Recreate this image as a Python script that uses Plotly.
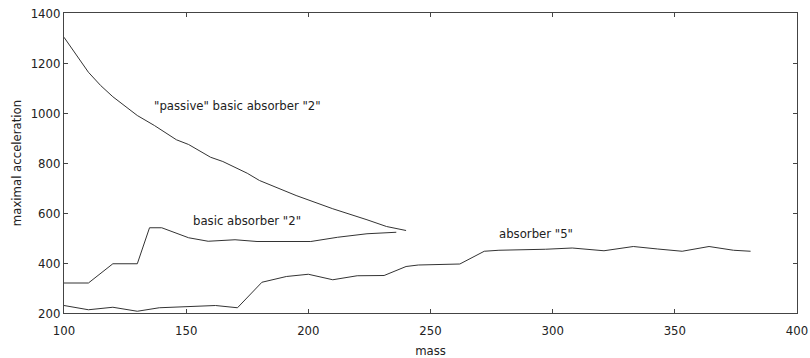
import plotly.graph_objects as go

passive_mass = [100, 110, 115, 120, 130, 137, 146, 151, 160, 165, 175, 180, 195, 210, 224, 232, 240]
passive_acc = [1303, 1163, 1110, 1065, 990, 950, 893, 874, 823, 806, 759, 730, 670, 617, 573, 546, 530]

basic_mass = [100, 110, 120, 130, 135, 140, 151, 159, 170, 179, 201, 212, 224, 236]
basic_acc = [320, 320, 397, 397, 541, 541, 501, 487, 493, 486, 486, 503, 517, 523]

abs5_mass = [100, 110, 120, 130, 139, 153, 162, 171, 181, 191, 200, 210, 220, 231, 240, 245, 262,
             272, 278, 297, 308, 321, 333, 343, 353, 364, 374, 381]
abs5_acc = [230, 213, 223, 207, 221, 226, 230, 221, 323, 346, 355, 333, 349, 350, 386, 392, 396,
            447, 451, 455, 460, 449, 466, 456, 447, 466, 451, 447]

labels = ['"passive" basic absorber "2"', 'basic absorber "2"', 'absorber "5"']
label_x = [171, 175, 293]
label_y = [1030, 572, 518]

font = "Liberation Sans Narrow, DejaVu Sans Condensed, Arial Narrow, sans-serif"
col = "#333333"

fig = go.Figure()
for xs, ys in [(passive_mass, passive_acc), (basic_mass, basic_acc), (abs5_mass, abs5_acc)]:
    fig.add_trace(go.Scatter(x=xs, y=ys, mode="lines", line=dict(color=col, width=1), showlegend=False))

for t, x, y in zip(labels, label_x, label_y):
    fig.add_annotation(x=x, y=y, text=t, showarrow=False, font=dict(family=font, size=13, color="#222"))

axis_common = dict(showgrid=False, zeroline=False, showline=True, linecolor="#444", linewidth=1,
                   mirror="ticks", ticks="inside", ticklen=4, tickcolor="#444", automargin=False,
                   tickfont=dict(family=font, size=13, color="#222"))
fig.update_xaxes(range=[100, 400], dtick=50, ticklabelstandoff=5,
                 title=dict(text="mass", font=dict(family=font, size=13, color="#222"), standoff=12), **axis_common)
fig.update_yaxes(range=[200, 1400], dtick=200,
                 title=dict(text="maximal acceleration", font=dict(family=font, size=13, color="#222"), standoff=6), **axis_common)

fig.update_layout(width=810, height=358, margin=dict(l=64, r=13, t=13, b=45),
                  plot_bgcolor="white", paper_bgcolor="white")
fig.write_html("out.html")
